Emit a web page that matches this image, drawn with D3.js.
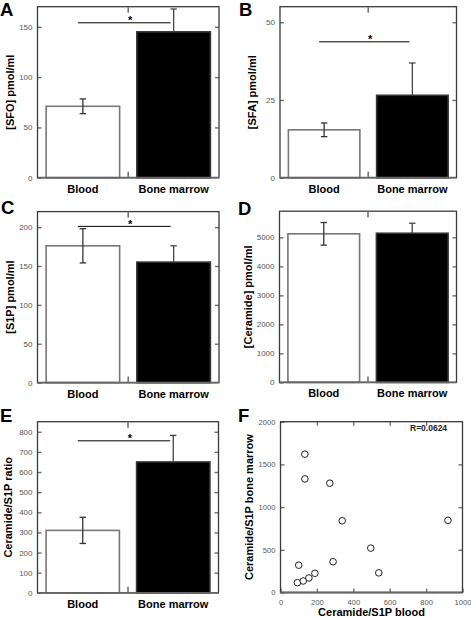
<!DOCTYPE html>
<html>
<head>
<meta charset="utf-8">
<script src="https://cdn.jsdelivr.net/npm/d3@7"></script>
<style>
  html, body { margin: 0; padding: 0; background: #fff; }
  svg { display: block; font-family: "Liberation Sans", Arial, Helvetica, sans-serif; }
</style>
</head>
<body>
<svg id="chart" width="471" height="618"></svg>
<script>
// ---------------- DATA ----------------
const categories = ["Blood", "Bone marrow"];

const sfoMean = [71, 145];
const sfoErr = [7.3, 22.7];
const sfoTicks = [0, 50, 100, 150];

const sfaMean = [15.4, 26.5];
const sfaErr = [2.2, 10.4];
const sfaTicks = [0, 25, 50];

const s1pMean = [176, 155];
const s1pErr = [22, 21];
const s1pTicks = [0, 50, 100, 150, 200];

const ceramideMean = [5120, 5140];
const ceramideErr = [390, 345];
const ceramideTicks = [0, 1000, 2000, 3000, 4000, 5000];

const ratioMean = [310, 650];
const ratioErr = [65, 132];
const ratioTicks = [0, 100, 200, 300, 400, 500, 600, 700, 800];

// Panel F scatter: Ceramide/S1P in blood (x) vs bone marrow (y)
const scatterBlood  = [93, 100, 125, 134, 134, 156, 189, 271, 289, 339, 496, 540, 920];
const scatterMarrow = [115, 320, 135, 1620, 1330, 170, 225, 1280, 360, 840, 520, 230, 845];
const scatterXTicks = [0, 200, 400, 600, 800, 1000];
const scatterYTicks = [0, 500, 1000, 1500, 2000];
const scatterR = "R=0.0624";

// ---------------- DRAWING ----------------
const svg = d3.select("#chart");
svg.append("rect").attr("width", 471).attr("height", 618).attr("fill", "#fff");

const FRAME = "#3a3a3a", TICK = "#707070", TICKTXT = "#555";
const plain = d3.format("d");

function panelLetter(txt, x, y) {
  svg.append("text").attr("x", x).attr("y", y)
    .attr("font-size", 18.5).attr("font-weight", "bold").text(txt);
}
function yLabel(txt, cx, cy) {
  svg.append("text")
    .attr("transform", `translate(${cx},${cy}) rotate(-90)`)
    .attr("text-anchor", "middle").attr("dy", "0.35em")
    .attr("font-size", 11).attr("font-weight", "bold").text(txt);
}

function barPanel(o) {
  const y = d3.scaleLinear().domain([0, o.max]).range([o.B, o.T]);
  const x = d3.scaleBand().domain(categories).range([o.L, o.R])
    .paddingInner(0.19).paddingOuter(0.095);
  const g = svg.append("g");

  // bars
  g.selectAll("rect.bar").data(categories).join("rect")
    .attr("x", d => x(d)).attr("width", x.bandwidth())
    .attr("y", (d, i) => y(o.mean[i]))
    .attr("height", (d, i) => y(0) - y(o.mean[i]))
    .attr("fill", (d, i) => i === 0 ? "#fff" : "#000")
    .attr("stroke", (d, i) => i === 0 ? "#777" : "#333")
    .attr("stroke-width", 1.6);

  // error bars
  categories.forEach((c, i) => {
    const cx = x(c) + x.bandwidth() / 2;
    const hi = o.mean[i] + o.err[i];
    const lo = i === 0 ? o.mean[i] - o.err[i] : o.mean[i];
    const col = i === 0 ? "#333" : "#444";
    g.append("line").attr("x1", cx).attr("x2", cx)
      .attr("y1", y(lo)).attr("y2", y(hi))
      .attr("stroke", col).attr("stroke-width", 1.3);
    g.append("line").attr("x1", cx - 3.2).attr("x2", cx + 3.2)
      .attr("y1", y(hi)).attr("y2", y(hi))
      .attr("stroke", col).attr("stroke-width", 1.3);
    if (i === 0) {
      g.append("line").attr("x1", cx - 3.2).attr("x2", cx + 3.2)
        .attr("y1", y(lo)).attr("y2", y(lo))
        .attr("stroke", col).attr("stroke-width", 1.3);
    }
  });

  // left axis (inward ticks)
  const ax = g.append("g").attr("transform", `translate(${o.L},0)`)
    .call(d3.axisLeft(y).tickValues(o.ticks).tickFormat(plain)
      .tickSizeInner(-4).tickSizeOuter(0).tickPadding(5));
  ax.select(".domain").remove();
  ax.selectAll("line").attr("stroke", TICK).attr("stroke-width", 1.4);
  ax.selectAll("text").attr("font-size", 8).attr("fill", TICKTXT)
    .attr("font-family", "Liberation Sans, Arial, sans-serif");
  // right mirrored ticks
  const ar = g.append("g").attr("transform", `translate(${o.R},0)`)
    .call(d3.axisRight(y).tickValues(o.ticks.filter(t => t > 0)).tickSizeInner(-4).tickSizeOuter(0).tickFormat(""));
  ar.select(".domain").remove();
  ar.selectAll("line").attr("stroke", TICK).attr("stroke-width", 1.4);

  // frame
  g.append("rect").attr("x", o.L).attr("y", o.T)
    .attr("width", o.R - o.L).attr("height", o.B - o.T)
    .attr("fill", "none").attr("stroke", FRAME).attr("stroke-width", 1.3);
  g.append("line").attr("x1", o.L).attr("x2", o.R).attr("y1", o.B).attr("y2", o.B)
    .attr("stroke", "#666").attr("stroke-width", 1.8);

  // middle category-boundary ticks
  const mid = (x(categories[0]) + x.bandwidth() + x(categories[1])) / 2;
  [[o.T, o.T + 6], [o.B, o.B - 6]].forEach(([a, b]) => {
    g.append("line").attr("x1", mid).attr("x2", mid).attr("y1", a).attr("y2", b)
      .attr("stroke", TICK).attr("stroke-width", 1.6);
  });

  // category labels
  g.selectAll("text.cat").data(categories).join("text")
    .attr("class", "cat")
    .attr("x", d => x(d) + x.bandwidth() / 2).attr("y", o.B + 15)
    .attr("text-anchor", "middle").attr("font-size", 11).attr("font-weight", "bold")
    .text(d => d);

  // significance
  if (o.sig != null) {
    const c0 = x(categories[0]) + x.bandwidth() / 2;
    const c1 = x(categories[1]) + x.bandwidth() / 2;
    g.append("line").attr("x1", c0 - 5).attr("x2", c1 - 3)
      .attr("y1", y(o.sig)).attr("y2", y(o.sig))
      .attr("stroke", "#000").attr("stroke-width", 1);
    g.append("text").attr("x", mid + 2).attr("y", y(o.sig) + 1.5)
      .attr("text-anchor", "middle").attr("font-size", 11).attr("font-weight", "bold")
      .text("*");
  }

  yLabel(o.label, o.labelX, (o.T + o.B) / 2);
  panelLetter(o.letter, o.letterX, o.letterY);
}

barPanel({ L: 37.5, R: 219, T: 6.7, B: 177.7, max: 170, ticks: sfoTicks,
  mean: sfoMean, err: sfoErr, sig: 154, label: "[SFO] pmol/ml", labelX: 10,
  letter: "A", letterX: 0, letterY: 16 });

barPanel({ L: 280, R: 456.5, T: 6.7, B: 177.7, max: 55, ticks: sfaTicks,
  mean: sfaMean, err: sfaErr, sig: 43.7, label: "[SFA] pmol/ml", labelX: 252.5,
  letter: "B", letterX: 239, letterY: 16 });

barPanel({ L: 37.5, R: 219, T: 211.6, B: 382.6, max: 220, ticks: s1pTicks,
  mean: s1pMean, err: s1pErr, sig: 201, label: "[S1P] pmol/ml", labelX: 10.5,
  letter: "C", letterX: 1, letterY: 213.5 });

barPanel({ L: 279.5, R: 456.5, T: 211.2, B: 382.4, max: 5900, ticks: ceramideTicks,
  mean: ceramideMean, err: ceramideErr, sig: null, label: "[Ceramide] pmol/ml", labelX: 248,
  letter: "D", letterX: 238, letterY: 215 });

barPanel({ L: 37.5, R: 218.5, T: 421.7, B: 592.8, max: 850, ticks: ratioTicks,
  mean: ratioMean, err: ratioErr, sig: 755, label: "Ceramide/S1P ratio", labelX: 8,
  letter: "E", letterX: 0, letterY: 422 });

// ---------- Panel F : scatter ----------
(function () {
  const L = 280.5, R = 462.5, T = 421.7, B = 592.5;
  const x = d3.scaleLinear().domain([0, 1000]).range([L, R]);
  const y = d3.scaleLinear().domain([0, 2000]).range([B, T]);
  const g = svg.append("g");

  const style = (sel) => {
    sel.select(".domain").remove();
    sel.selectAll("line").attr("stroke", TICK).attr("stroke-width", 1.4);
    sel.selectAll("text").attr("font-size", 7.6).attr("fill", TICKTXT)
      .attr("font-family", "Liberation Sans, Arial, sans-serif");
  };
  g.append("g").attr("transform", `translate(0,${B})`)
    .call(d3.axisBottom(x).tickValues(scatterXTicks).tickFormat(plain)
      .tickSizeInner(-4).tickSizeOuter(0).tickPadding(7))
    .call(style);
  g.append("g").attr("transform", `translate(0,${T})`)
    .call(d3.axisTop(x).tickValues(scatterXTicks.slice(1, -1)).tickSizeInner(-4).tickSizeOuter(0).tickFormat(""))
    .call(style);
  g.append("g").attr("transform", `translate(${L},0)`)
    .call(d3.axisLeft(y).tickValues(scatterYTicks).tickFormat(plain)
      .tickSizeInner(-4).tickSizeOuter(0).tickPadding(5))
    .call(style);
  g.append("g").attr("transform", `translate(${R},0)`)
    .call(d3.axisRight(y).tickValues(scatterYTicks.slice(1, -1)).tickSizeInner(-4).tickSizeOuter(0).tickFormat(""))
    .call(style);

  g.append("rect").attr("x", L).attr("y", T).attr("width", R - L).attr("height", B - T)
    .attr("fill", "none").attr("stroke", FRAME).attr("stroke-width", 1.3);
  g.append("line").attr("x1", L).attr("x2", R).attr("y1", B).attr("y2", B)
    .attr("stroke", "#666").attr("stroke-width", 1.8);

  g.selectAll("circle").data(scatterBlood).join("circle")
    .attr("cx", d => x(d)).attr("cy", (d, i) => y(scatterMarrow[i]))
    .attr("r", 3.3).attr("fill", "#fff").attr("stroke", "#222").attr("stroke-width", 1);

  g.append("text").attr("x", 410).attr("y", 431).attr("font-size", 8.5)
    .attr("font-weight", "bold").attr("fill", "#222").text(scatterR);

  svg.append("text").attr("x", (L + R) / 2).attr("y", 615.5)
    .attr("text-anchor", "middle").attr("font-size", 11).attr("font-weight", "bold")
    .text("Ceramide/S1P blood");
  yLabel("Ceramide/S1P bone marrow", 249.5, (T + B) / 2);
  panelLetter("F", 238, 422);
})();
</script>
</body>
</html>
